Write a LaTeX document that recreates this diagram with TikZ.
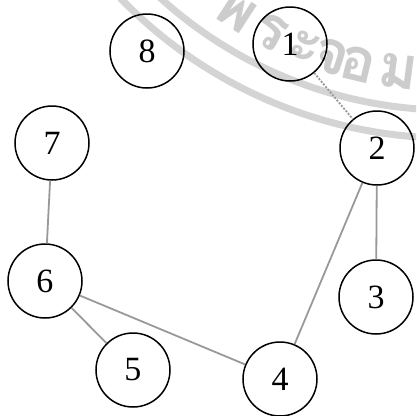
\documentclass[tikz,border=0pt]{standalone}
\usepackage{fontspec}
\setmainfont{Liberation Serif}
\newfontfamily\thaifont[Script=Thai]{Loma}
\begin{document}
\begin{tikzpicture}[x=1pt,y=1pt,
  vertex/.style={circle,draw=black,line width=1.5pt,minimum size=74pt,inner sep=0pt,font=\fontsize{34}{40}\selectfont},
  edge/.style={draw=black!40,line width=1.8pt},
  wm/.style={draw=black!17,line width=7pt},
  wmtext/.style={text=black!20,font=\thaifont\bfseries\fontsize{60}{70}\selectfont,inner sep=0pt}]
\useasboundingbox (0,0) rectangle (416,-416);
\begin{scope}
  \clip (0,0) rectangle (416,-416);
  \coordinate (wc) at (450,320);
  \draw[wm] ([shift={(200:430)}]wc) arc[start angle=200,end angle=290,radius=430];
  \draw[wm] ([shift={(200:458)}]wc) arc[start angle=200,end angle=290,radius=458];
  \foreach \ch/\ang in {พ/237,ร/243,ะ/248.5,จ/252.5,อ/256.5,ม/262.5}
    \node[wmtext,rotate=\ang+90] at ([shift={(\ang:395)}]wc) {\ch};
\end{scope}
\node[vertex] (n1) at (290,-44) {1};
\node[vertex] (n2) at (377,-148) {2};
\node[vertex] (n3) at (376,-297) {3};
\node[vertex] (n4) at (280,-379) {4};
\node[vertex] (n5) at (133,-370) {5};
\node[vertex] (n6) at (45,-281) {6};
\node[vertex] (n7) at (52,-143) {7};
\node[vertex] (n8) at (147,-51) {8};
\draw[edge,dash pattern=on 2pt off 1.5pt] (n1) -- (n2);
\draw[edge] (n2) -- (n3);
\draw[edge] (n2) -- (n4);
\draw[edge] (n7) -- (n6);
\draw[edge] (n6) -- (n4);
\draw[edge] (n6) -- (n5);
\end{tikzpicture}
\end{document}
